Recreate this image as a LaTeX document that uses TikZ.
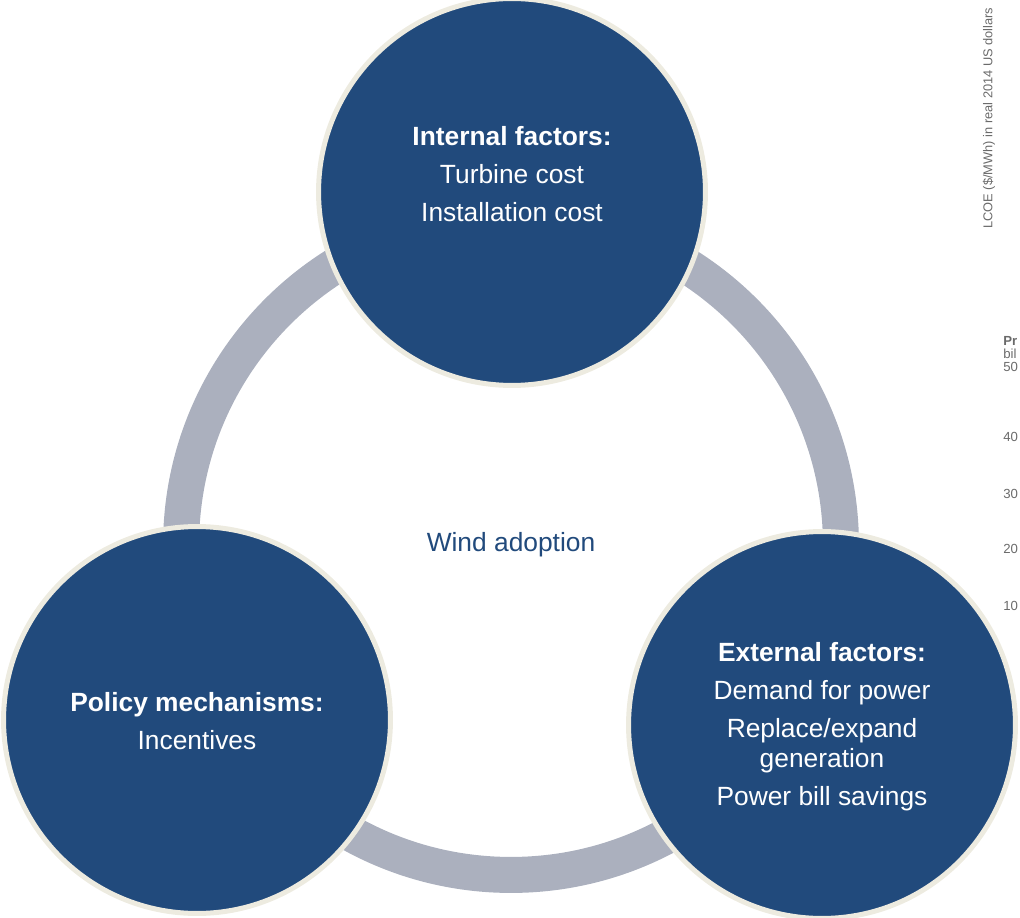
\documentclass[tikz,border=0pt]{standalone}
\usepackage{fontspec}
\setmainfont{Liberation Sans}
\usetikzlibrary{positioning}

\definecolor{slateblue}{HTML}{214A7C}
\definecolor{rimcream}{HTML}{EDEBE0}
\definecolor{ringgrey}{HTML}{ABB0BE}
\definecolor{chartgrey}{HTML}{6A6A6A}

\tikzset{
  factorcircle/.style={
    circle,
    fill=slateblue,
    draw=rimcream,
    line width=0.1cm,
    minimum size=7.74cm,
    inner sep=0pt
  },
  factortext/.style={
    align=center,
    text=white,
    inner sep=0pt,
    font=\fontsize{15}{17}\selectfont
  },
  hubtext/.style={
    text=slateblue,
    inner sep=0pt,
    font=\fontsize{15}{17}\selectfont
  },
  cyclering/.style={
    draw=ringgrey,
    line width=0.72cm
  },
  axislabel/.style={
    text=chartgrey,
    anchor=west,
    inner sep=0pt,
    font=\fontsize{7.5}{8}\selectfont
  }
}

\begin{document}
\begin{tikzpicture}[x=0.02cm,y=-0.02cm]
  \path[use as bounding box] (0,0) rectangle (1020,918);
  \clip (0,0) rectangle (1020,918);

  % axis labels of the chart next door, cut off at the edge
  \node[axislabel, anchor=west, rotate=90, font=\fontsize{7.3}{8}\selectfont] (lcoe) at (989,229) {LCOE (\$/MWh) in real 2014 US dollars};
  \node[axislabel] (projtitle) at (1003,341) {\textbf{Pr}};
  \node[axislabel] (projunit) at (1003,354) {bil};
  \node[axislabel] (tick50) at (1003,367) {50};
  \node[axislabel] (tick40) at (1003,437) {40};
  \node[axislabel] (tick30) at (1003,494) {30};
  \node[axislabel] (tick20) at (1003,549) {20};
  \node[axislabel] (tick10) at (1003,606) {10};

  % the cycle behind the three circles
  \node[hubtext] (hub) at (511,545) {Wind adoption};
  \draw[cyclering] (hub.center) circle (6.6cm);

  \node[factorcircle] (internal) at (512,192) {};
  \node[factorcircle] (policy) at (197,720) {};
  \node[factorcircle] (external) at (822,725) {};

  \node[factortext] (internaltxt) at (512,174) {\textbf{Internal factors:}\\[4.6pt]Turbine cost\\[4.6pt]Installation cost};
  \node[factortext] (policytxt) at (197,721) {\textbf{Policy mechanisms:}\\[4.6pt]Incentives};
  \node[factortext] (externaltxt) at (822,727) {\textbf{External factors:}\\[4.6pt]Demand for power\\[4.6pt]Replace/expand\\generation\\[4.6pt]Power bill savings};
\end{tikzpicture}
\end{document}
